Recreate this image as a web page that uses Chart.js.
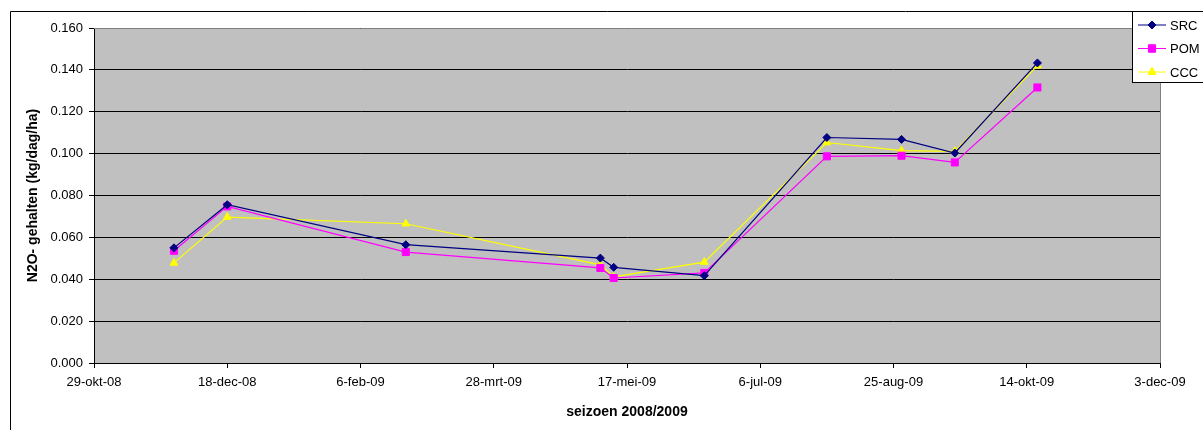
<!DOCTYPE html>
<html>
<head>
<meta charset="utf-8">
<script src="https://cdn.jsdelivr.net/npm/chart.js@4/dist/chart.umd.min.js"></script>
<style>
  html, body { margin: 0; padding: 0; background: #fff; }
  #wrap { width: 1203px; height: 430px; }
</style>
</head>
<body>
<div id="wrap"><canvas id="n2oChart" width="1203" height="430"></canvas></div>
<script>
// meetdata seizoen 2008/2009
const dates = ['2008-11-28', '2008-12-18', '2009-02-23', '2009-05-07', '2009-05-12',
               '2009-06-15', '2009-07-31', '2009-08-28', '2009-09-17', '2009-10-18'];
const src = [0.0550, 0.0756, 0.0565, 0.0501, 0.0457, 0.0417, 0.1077, 0.1068, 0.1003, 0.1433];
const pom = [0.0536, 0.0748, 0.0530, 0.0454, 0.0406, 0.0430, 0.0987, 0.0990, 0.0958, 0.1316];
const ccc = [0.0478, 0.0697, 0.0665, 0.0469, 0.0411, 0.0482, 0.1053, 0.1014, 0.1011, 0.1420];

// x-as: dagen vanaf 29-okt-08, stap 50 dagen
const axisStart = '2008-10-29';
const axisDays = 400;
const dayStep = 50;
const maanden = ['jan', 'feb', 'mrt', 'apr', 'mei', 'jun', 'jul', 'aug', 'sep', 'okt', 'nov', 'dec'];
const yMax = 0.16, yStep = 0.02;

const DAY = 86400000;
const t0 = Date.parse(axisStart + 'T00:00:00Z');
const toDay = (iso) => Math.round((Date.parse(iso + 'T00:00:00Z') - t0) / DAY);
const fmtDag = (n) => {
  const d = new Date(t0 + n * DAY);
  return d.getUTCDate() + '-' + maanden[d.getUTCMonth()] + '-' + String(d.getUTCFullYear()).slice(2);
};
const pts = (arr) => arr.map((v, i) => ({ x: toDay(dates[i]), y: v }));

const FONT = "'Liberation Sans', Arial, sans-serif";

// grijze plotachtergrond + kaders + legenda
const excelLook = {
  id: 'excelLook',
  beforeDraw(chart) {
    const { ctx, chartArea: a } = chart;
    ctx.save();
    ctx.fillStyle = '#fff';
    ctx.fillRect(0, 0, chart.width, chart.height);
    ctx.fillStyle = '#C0C0C0';
    ctx.fillRect(a.left, a.top, a.right - a.left, a.bottom - a.top);
    ctx.restore();
  },
  beforeDatasetsDraw(chart) {
    const { ctx, chartArea: a } = chart;
    ctx.save();
    ctx.strokeStyle = '#808080';
    ctx.lineWidth = 1;
    ctx.beginPath();
    ctx.moveTo(a.left, Math.round(a.top) + 0.5);
    ctx.lineTo(Math.round(a.right) + 0.5, Math.round(a.top) + 0.5);
    ctx.lineTo(Math.round(a.right) + 0.5, a.bottom);
    ctx.stroke();
    ctx.restore();
  },
  afterDraw(chart) {
    const { ctx } = chart;
    ctx.save();
    // buitenkader
    ctx.strokeStyle = '#000';
    ctx.lineWidth = 1;
    ctx.beginPath();
    ctx.moveTo(10.5, 432);
    ctx.lineTo(10.5, 11.5);
    ctx.lineTo(1205, 11.5);
    ctx.stroke();
    // legenda
    const lx = 1132.5, ly = 11.5;
    ctx.fillStyle = '#fff';
    ctx.fillRect(lx, ly, 80, 71);
    ctx.strokeRect(lx, ly, 80, 71);
    ctx.font = '13px ' + FONT;
    ctx.textBaseline = 'middle';
    chart.data.datasets.forEach((ds, i) => {
      const y = 25 + i * 23.5;
      ctx.strokeStyle = ds.borderColor;
      ctx.lineWidth = 1;
      ctx.beginPath();
      ctx.moveTo(1138, y);
      ctx.lineTo(1166, y);
      ctx.stroke();
      Chart.helpers.drawPoint(ctx, {
        pointStyle: ds.pointStyle, radius: ds.pointRadius, borderWidth: 1
      }, 1152, y);
      ctx.fillStyle = ds.pointBackgroundColor;
      ctx.strokeStyle = ds.pointBorderColor;
      ctx.beginPath();
      Chart.helpers.drawPoint(ctx, {
        pointStyle: ds.pointStyle, radius: ds.pointRadius, borderWidth: 1
      }, 1152, y);
      ctx.fillStyle = '#000';
      ctx.fillText(ds.label, 1170, y + 1);
    });
    ctx.restore();
  }
};

const serie = (label, data, color, style, r) => ({
  label, data: pts(data),
  borderColor: color, backgroundColor: color,
  pointBackgroundColor: color, pointBorderColor: color,
  pointStyle: style, pointRadius: r, pointBorderWidth: 1,
  borderWidth: 1.2, tension: 0
});

new Chart(document.getElementById('n2oChart'), {
  type: 'line',
  data: {
    datasets: [
      serie('SRC', src, '#000080', 'rectRot', 4),
      serie('POM', pom, '#FF00FF', 'rect', 5),
      serie('CCC', ccc, '#FFFF00', 'triangle', 4.5)
    ]
  },
  plugins: [excelLook],
  options: {
    responsive: false,
    animation: false,
    layout: { padding: { left: 0, right: 43, top: 28, bottom: 0 } },
    plugins: { legend: { display: false }, tooltip: { enabled: false } },
    scales: {
      x: {
        type: 'linear', min: 0, max: axisDays,
        afterFit: (s) => { s.height = 67; },
        afterBuildTicks: (s) => {
          s.ticks = [];
          for (let d = 0; d <= axisDays; d += dayStep) s.ticks.push({ value: d });
        },
        ticks: {
          callback: (v) => fmtDag(v), color: '#000', maxRotation: 0,
          padding: 7, font: { family: FONT, size: 13 }
        },
        grid: { drawOnChartArea: false, drawTicks: true, tickLength: 5, color: '#000' },
        border: { color: '#000', width: 1 },
        title: {
          display: true, text: 'seizoen 2008/2009', color: '#000',
          font: { family: FONT, size: 14, weight: 'bold' }, padding: { top: 0, bottom: 9 }
        }
      },
      y: {
        min: 0, max: yMax,
        afterFit: (s) => { s.width = 94; },
        ticks: {
          stepSize: yStep, color: '#000', padding: 6,
          callback: (v) => v.toFixed(3), font: { family: FONT, size: 13 }
        },
        grid: { color: '#000', lineWidth: 1, tickLength: 5 },
        border: { color: '#000', width: 1 },
        title: {
          display: true, text: 'N2O- gehalten (kg/dag/ha)', color: '#000',
          font: { family: FONT, size: 14, weight: 'bold' }, padding: { top: 25, bottom: 0 }
        }
      }
    }
  }
});
</script>
</body>
</html>
